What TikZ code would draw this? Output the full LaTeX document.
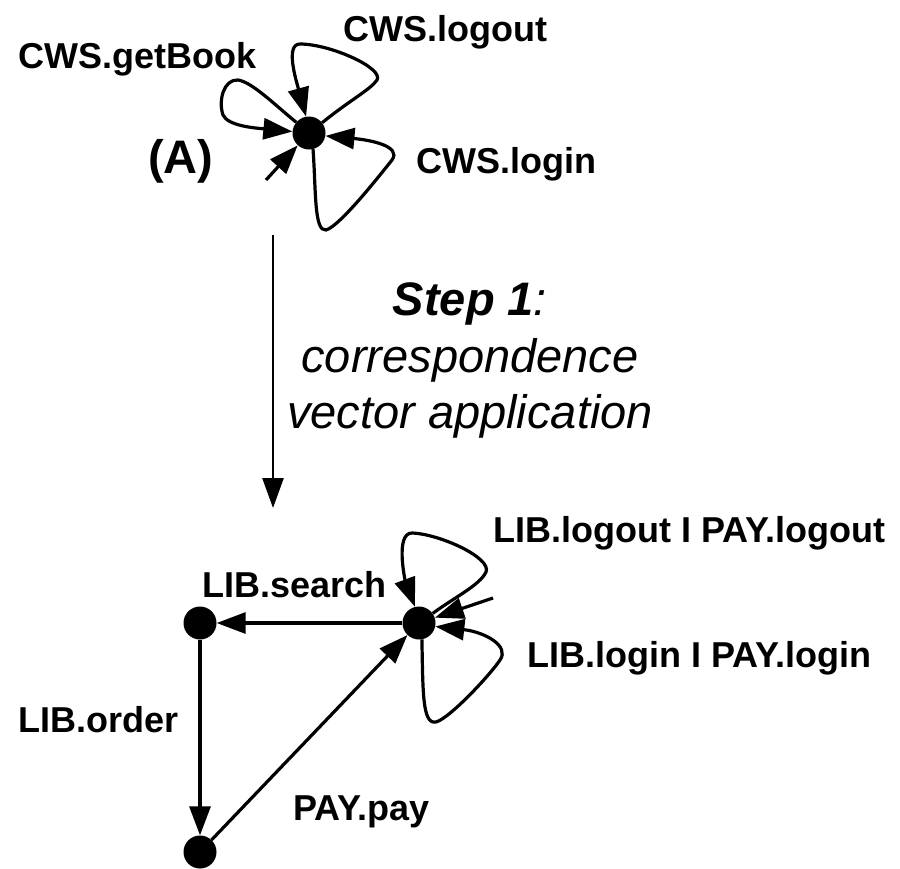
\documentclass[tikz,border=0pt]{standalone}
\usepackage{fontspec}
\setmainfont{Liberation Sans}
\usetikzlibrary{arrows.meta}
\begin{document}
\begin{tikzpicture}[x=1pt,y=-1pt,
  state/.style={circle,fill=black,minimum size=33pt,inner sep=0pt},
  edge/.style={line width=3.2pt,-{Triangle[length=29pt,width=21pt]}},
  lbl/.style={font=\fontsize{36}{40}\selectfont\bfseries,inner sep=0pt,anchor=base west},
  big/.style={font=\fontsize{47}{52}\selectfont,inner sep=0pt,anchor=base}]
\useasboundingbox (0,0) rectangle (900,868);

% upper automaton
\node[state] (A) at (309,133) {};
\coordinate (a0) at (266,180);
\draw[edge] (a0) -- (A);
\draw[edge] (A.140) .. controls (275,105) and (252,82) .. (238,80)
  .. controls (224,79) and (218,100) .. (223,115)
  .. controls (228,126) and (255,128) .. (A.175);
\draw[edge] (A.38) .. controls (350,100) and (370,90) .. (377,80)
  .. controls (384,68) and (330,44) .. (300,44)
  .. controls (285,44) and (296,80) .. (A.100);
\draw[edge] (A.-76) .. controls (316,190) and (314,232) .. (326,230)
  .. controls (340,226) and (380,175) .. (392,160)
  .. controls (402,146) and (370,140) .. (A.-10);

\node[lbl] (lgb) at (18,68) {CWS.getBook};
\node[lbl] (llo) at (343,41) {CWS.logout};
\node[lbl] (lli) at (416,173) {CWS.login};
\node[big,anchor=base west,font=\fontsize{47}{52}\selectfont\bfseries] (la) at (148,173) {(A)};

% transformation step
\coordinate (s0) at (273,235);
\coordinate (s1) at (273,508);
\draw[line width=2.6pt,-{Triangle[length=30pt,width=21pt]}] (s0) -- (s1);
\node[big] (st1) at (470,315) {\textbf{\itshape Step 1}\textit{:}};
\node[big] (st2) at (470,372) {\itshape correspondence};
\node[big] (st3) at (470,428) {\itshape vector application};

% lower automaton
\node[state] (R) at (419,623) {};
\node[state] (L) at (200,623) {};
\node[state] (B) at (200,852) {};
\coordinate (r0) at (493,598);
\draw[edge] (r0) -- (R);
\draw[edge] (R) -- (L);
\draw[edge] (L) -- (B);
\draw[edge] (B) -- (R);
\draw[edge] (R.35) .. controls (455,597) and (480,585) .. (486,572)
  .. controls (492,558) and (440,534) .. (412,533)
  .. controls (395,533) and (405,580) .. (R.104);
\draw[edge] (R.-80) .. controls (423,690) and (422,725) .. (436,722)
  .. controls (450,718) and (490,675) .. (500,660)
  .. controls (510,646) and (485,632) .. (R.-12);

\node[lbl] (llo2) at (493,542) {LIB.logout I PAY.logout};
\node[lbl] (lli2) at (527,667) {LIB.login I PAY.login};
\node[lbl] (lse) at (202,597) {LIB.search};
\node[lbl] (lor) at (18,732) {LIB.order};
\node[lbl] (lpa) at (293,820) {PAY.pay};
\end{tikzpicture}
\end{document}
